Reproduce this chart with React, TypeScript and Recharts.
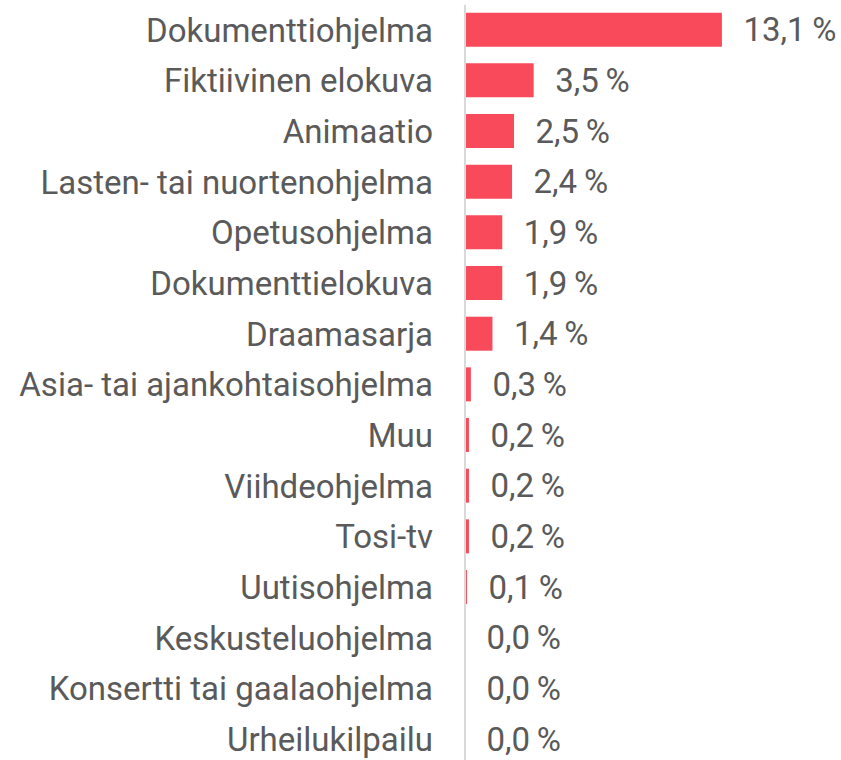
import { BarChart, Bar, XAxis, YAxis, LabelList } from "recharts";

const categories = [
  "Dokumenttiohjelma",
  "Fiktiivinen elokuva",
  "Animaatio",
  "Lasten- tai nuortenohjelma",
  "Opetusohjelma",
  "Dokumenttielokuva",
  "Draamasarja",
  "Asia- tai ajankohtaisohjelma",
  "Muu",
  "Viihdeohjelma",
  "Tosi-tv",
  "Uutisohjelma",
  "Keskusteluohjelma",
  "Konsertti tai gaalaohjelma",
  "Urheilukilpailu",
];

const shares = [13.1, 3.5, 2.5, 2.4, 1.9, 1.9, 1.4, 0.3, 0.2, 0.2, 0.2, 0.1, 0.0, 0.0, 0.0];

const data = categories.map((name, i) => ({ name, value: shares[i] }));

const fmt = (v: any) => Number(v).toFixed(1).replace(".", ",") + "\u2009%";

const font = { fill: "#5a5a5a", fontSize: 33, fontFamily: "Roboto", fontWeight: 400 };

export default function App() {
  return (
    <div style={{ position: "absolute", left: 0, top: 0, width: 841, height: 760, overflow: "hidden", background: "#fff" }}>
      <BarChart
        width={841}
        height={770}
        data={data}
        layout="vertical"
        margin={{ top: 4.7, right: 23, bottom: 5.3, left: 0 }}
        barSize={34}
      >
        <XAxis type="number" domain={[0, 18]} hide />
        <YAxis
          type="category"
          dataKey="name"
          width={465}
          tickLine={false}
          tickMargin={26}
          axisLine={{ stroke: "#d9d9d9", strokeWidth: 2 }}
          tick={font}
          interval={0}
        />
        <Bar dataKey="value" fill="#f84a5a" minPointSize={0.001} isAnimationActive={false}>
          <LabelList dataKey="value" position="right" offset={21.5} formatter={fmt} style={font} />
        </Bar>
      </BarChart>
    </div>
  );
}
